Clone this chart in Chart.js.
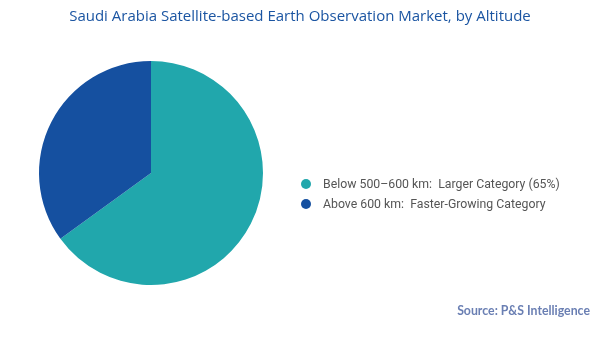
<!DOCTYPE html>
<html>
<head>
<meta charset="utf-8">
<script src="https://cdn.jsdelivr.net/npm/chart.js@4.4.1/dist/chart.umd.min.js"></script>
<style>
  html, body { margin: 0; padding: 0; background: #fff; }
  #wrap { position: relative; width: 600px; height: 337px; }
  #title {
    position: absolute; left: 0; top: 5px; width: 600px; text-align: center;
    font-family: 'Open Sans', sans-serif; font-size: 15px; line-height: 20px; color: #1b55a2;
  }
  #legend {
    position: absolute; left: 301px; top: 174px;
    margin: 0; padding: 0; list-style: none;
    font-family: Roboto, sans-serif; font-size: 12.3px; color: #555;
  }
  #legend li { display: flex; align-items: center; height: 20px; white-space: pre; }
  #legend .dot { width: 10px; height: 10px; border-radius: 50%; margin-right: 12px; flex: none; }
  #source {
    position: absolute; right: 10px; top: 303px;
    font-family: Lato, sans-serif; font-weight: bold; font-size: 12.3px; color: #6a7fb3;
  }
</style>
</head>
<body>
<div id="wrap">
  <canvas id="altChart" width="600" height="337"></canvas>
  <div id="title"></div>
  <ul id="legend"></ul>
  <div id="source"></div>
</div>
<script>
// altitude segments and their share of the market (%)
const segments = ['Below 500\u2013600 km:  Larger Category (65%)', 'Above 600 km:  Faster-Growing Category'];
const shares = [65, 35];
const segmentColors = ['#21a7ac', '#1550a0'];

const titleText = 'Saudi Arabia Satellite-based Earth Observation Market, by Altitude';
const sourceText = 'Source: P&S Intelligence';

const ctx = document.getElementById('altChart').getContext('2d');
const chart = new Chart(ctx, {
  type: 'pie',
  data: {
    labels: segments,
    datasets: [{
      data: shares,
      backgroundColor: segmentColors,
      borderWidth: 0,
      hoverOffset: 0
    }]
  },
  options: {
    responsive: false,
    animation: false,
    // keeps the pie in the left part of the canvas, legend sits to its right
    layout: {
      padding: { left: 39, right: 337, top: 61, bottom: 52 }
    },
    plugins: {
      title: { display: false },
      legend: { display: false },
      tooltip: { enabled: false }
    }
  }
});

document.getElementById('title').textContent = titleText;

// legend built from the chart's own labels and colours
const legendEl = document.getElementById('legend');
chart.data.labels.forEach((label, i) => {
  const li = document.createElement('li');
  const dot = document.createElement('span');
  dot.className = 'dot';
  dot.style.background = chart.data.datasets[0].backgroundColor[i];
  li.appendChild(dot);
  li.appendChild(document.createTextNode(label));
  legendEl.appendChild(li);
});

document.getElementById('source').textContent = sourceText;
</script>
</body>
</html>
